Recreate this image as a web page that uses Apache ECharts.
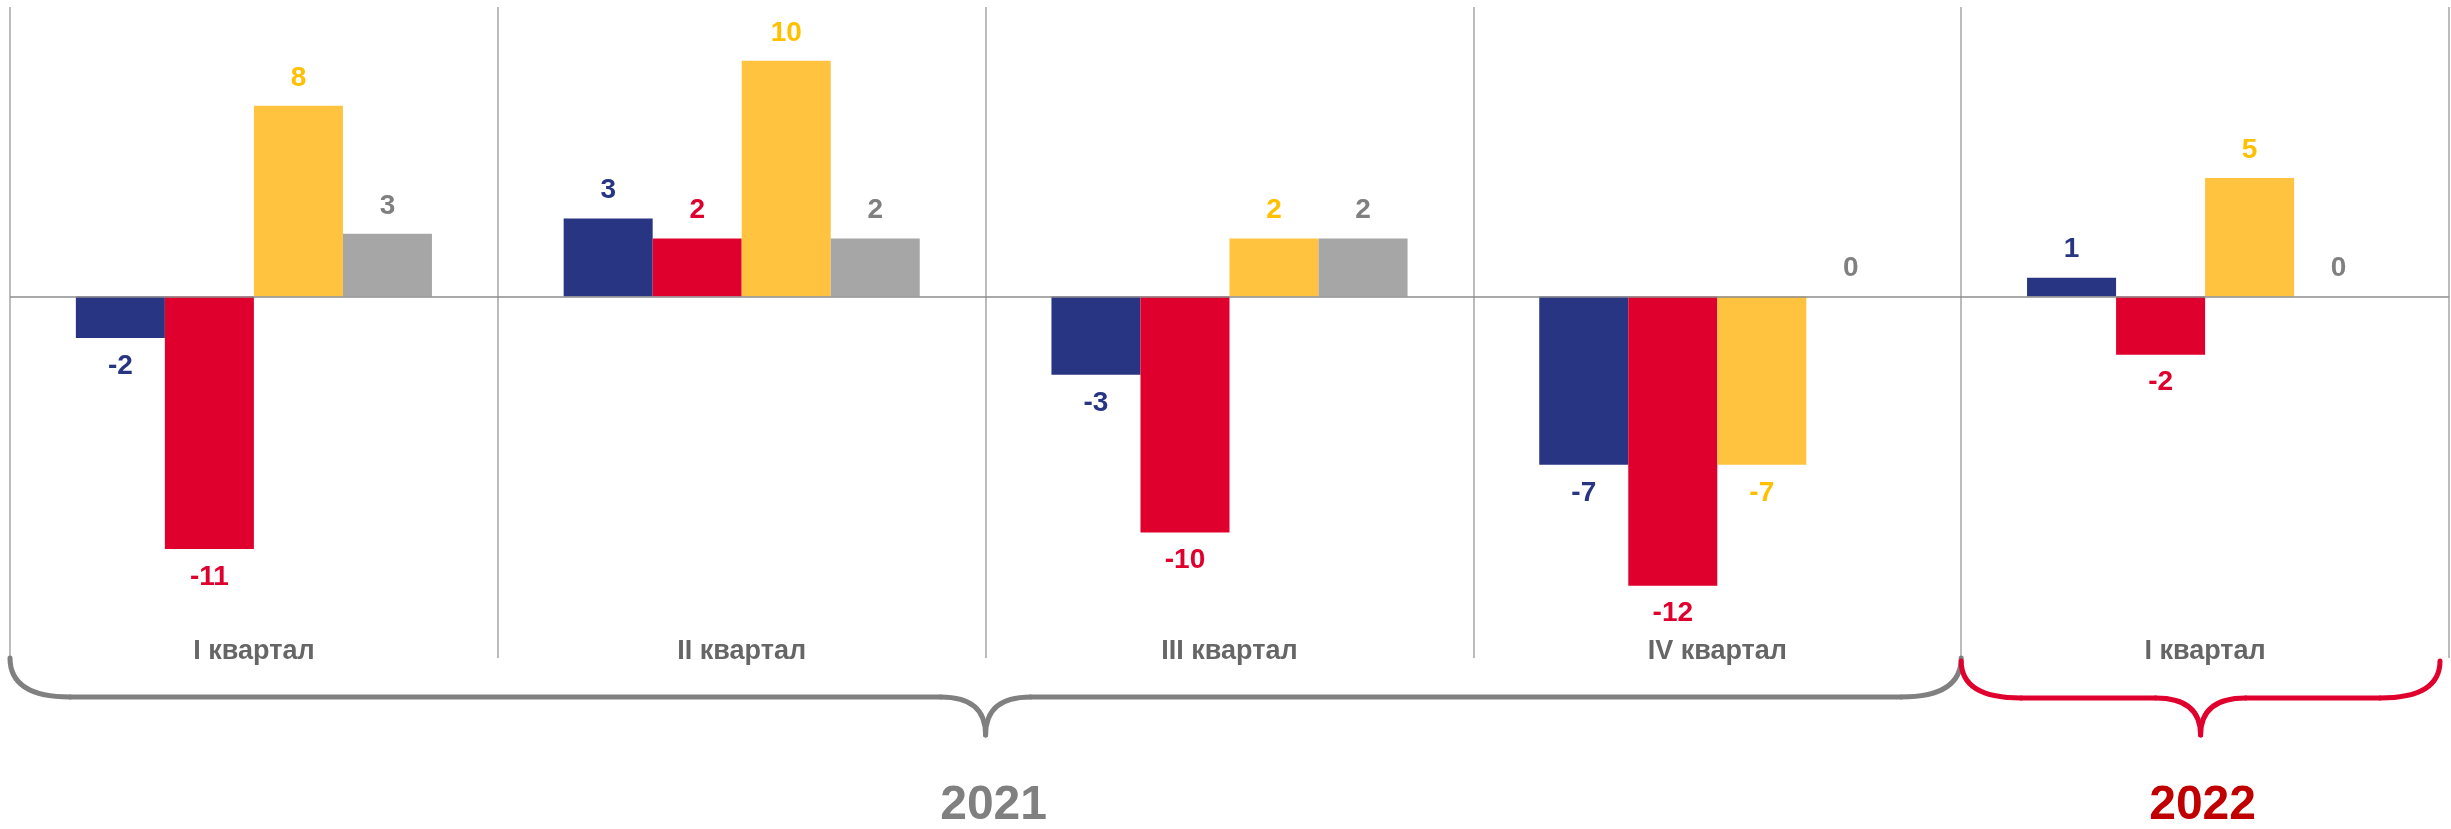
<!DOCTYPE html>
<html>
<head>
<meta charset="utf-8">
<script src="https://cdn.jsdelivr.net/npm/echarts@6/dist/echarts.min.js"></script>
<style>
    html, body { margin: 0; padding: 0; background: #fff; }
    #main { width: 2451px; height: 829px; }
</style>
</head>
<body>
<div id="main"></div>
<script>
    // quarters (last one is 2022)
    var categories = ['I квартал', 'II квартал', 'III квартал', 'IV квартал', 'I квартал'];
    // bar heights, labels are the rounded values
    var blueValues   = [-1.75, 3.3, -3.3, -7.1, 0.8];
    var redValues    = [-10.65, 2.45, -9.95, -12.2, -2.45];
    var yellowValues = [8.05, 9.95, 2.45, -7.1, 5.0];
    var greyValues   = [2.65, 2.45, 2.45, 0, 0];
    var years = ['2021', '2022'];

    var font = '"Liberation Sans", Arial, sans-serif';

    function toData(arr) {
        return arr.map(function (v) {
            return { value: v, label: { position: v < 0 ? 'bottom' : 'top' } };
        });
    }

    function makeSeries(name, values, color, labelColor) {
        return {
            name: name,
            type: 'bar',
            data: toData(values),
            barGap: '0%',
            barCategoryGap: '27%',
            itemStyle: { color: color },
            label: {
                show: true,
                distance: 14,
                color: labelColor,
                fontSize: 28,
                fontWeight: 'bold',
                fontFamily: font,
                formatter: function (p) { return Math.round(p.value); }
            }
        };
    }

    var chart = echarts.init(document.getElementById('main'));

    var series = [
        makeSeries('s1', blueValues, '#283582', '#283582'),
        makeSeries('s2', redValues, '#e0002d', '#e0002d'),
        makeSeries('s3', yellowValues, '#ffc340', '#ffc000'),
        makeSeries('s4', greyValues, '#a6a6a6', '#808080')
    ];
    // zero line
    series[0].markLine = {
        silent: true,
        symbol: 'none',
        label: { show: false },
        lineStyle: { color: '#8c8c8c', width: 1.5, type: 'solid' },
        data: [{ yAxis: 0 }]
    };

    chart.setOption({
        animation: false,
        grid: { left: 10, right: 2, top: 7, bottom: 171 },
        xAxis: {
            type: 'category',
            data: categories,
            axisLine: { show: false, onZero: false },
            axisTick: { show: false },
            splitLine: { show: true, lineStyle: { color: '#a6a6a6', width: 1.5 } },
            axisLabel: {
                inside: true,
                margin: 6,
                verticalAlign: 'middle',
                color: '#666666',
                fontSize: 27,
                fontWeight: 'bold',
                fontFamily: font
            }
        },
        yAxis: {
            type: 'value',
            min: -15.25,
            max: 12.22,
            show: false,
            splitLine: { show: false }
        },
        series: series
    });

    // braces under the quarters, built from lines and bezier curves
    function brace(a, b, top, mid, tip, color) {
        var m = (a + b) / 2;
        var st = { stroke: color, lineWidth: 5, fill: null, lineCap: 'round' };
        function bez(x1, y1, c1x, c1y, c2x, c2y, x2, y2) {
            return { type: 'bezierCurve', silent: true, style: st,
                shape: { x1: x1, y1: y1, cpx1: c1x, cpy1: c1y, cpx2: c2x, cpy2: c2y, x2: x2, y2: y2 } };
        }
        function ln(x1, y1, x2, y2) {
            return { type: 'line', silent: true, style: st,
                shape: { x1: x1, y1: y1, x2: x2, y2: y2 } };
        }
        return [
            bez(a, top, a, mid - 14, a + 18, mid, a + 60, mid),
            ln(a + 60, mid, m - 45, mid),
            bez(m - 45, mid, m - 15, mid, m, mid + 12, m, tip),
            bez(m, tip, m, mid + 12, m + 15, mid, m + 45, mid),
            ln(m + 45, mid, b - 60, mid),
            bez(b - 60, mid, b - 18, mid, b, mid - 14, b, top)
        ];
    }

    var px = function (i) { return chart.convertToPixel({ xAxisIndex: 0 }, i); };
    var band = px(1) - px(0);
    var x0 = px(0) - band / 2;
    var xj = px(3) + band / 2;
    var x1 = px(4) + band / 2 - 9;

    var elements = brace(x0, xj, 658, 697, 735, '#808080')
        .concat(brace(xj, x1, 661, 698, 735, '#e0002d'));
    elements.push({
        type: 'text', x: (x0 + xj) / 2 + 8, y: 806,
        style: {
            text: years[0], fill: '#808080', fontSize: 48, fontWeight: 'bold',
            fontFamily: font, align: 'center', verticalAlign: 'middle'
        }
    });
    elements.push({
        type: 'text', x: (xj + x1) / 2 + 2, y: 806,
        style: {
            text: years[1], fill: '#c00000', fontSize: 48, fontWeight: 'bold',
            fontFamily: font, align: 'center', verticalAlign: 'middle'
        }
    });

    chart.setOption({ graphic: elements });
</script>
</body>
</html>
